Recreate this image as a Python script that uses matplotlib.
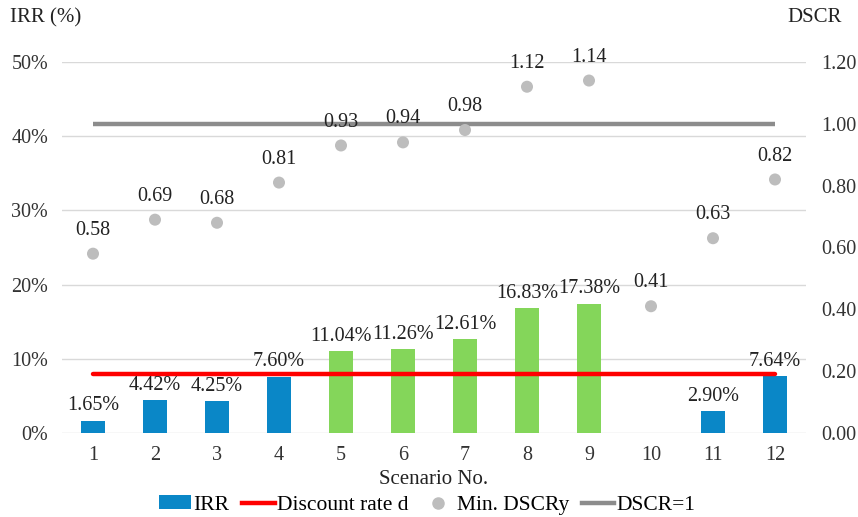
import matplotlib
matplotlib.use("Agg")
import matplotlib.pyplot as plt
import numpy as np
from matplotlib.lines import Line2D
from matplotlib.patches import Patch

plt.rcParams['font.family'] = ['Liberation Serif', 'DejaVu Serif']

scenarios = [1, 2, 3, 4, 5, 6, 7, 8, 9, 10, 11, 12]
irr = [1.65, 4.42, 4.25, 7.60, 11.04, 11.26, 12.61, 16.83, 17.38, None, 2.90, 7.64]
dscr = [0.58, 0.69, 0.68, 0.81, 0.93, 0.94, 0.98, 1.12, 1.14, 0.41, 0.63, 0.82]
discount_rate = 8.0
dscr_threshold = 1.0

blue = '#0A87C7'
green = '#84D65A'
red = '#FF0000'
dot_gray = '#BDBDBD'
line_gray = '#8C8C8C'
text_color = '#222222'

fig = plt.figure(figsize=(8.58, 5.17), dpi=100)
W, H = 858, 517
ax = fig.add_axes([62 / W, (H - 433) / H, (806 - 62) / W, (433 - 62) / H])
ax2 = ax.twinx()

x = np.arange(len(scenarios))
fs = 14.5

# IRR bars: green where IRR exceeds the discount rate
for xi, v in zip(x, irr):
    if v is None:
        continue
    c = green if v > discount_rate else blue
    ax.bar(xi, v, width=0.4, color=c, zorder=2)
    ax.annotate(f"{v:.2f}%", (xi, v), xytext=(0, 4), textcoords='offset points',
                ha='center', va='bottom', fontsize=fs, color=text_color, zorder=5)

ax.plot([x[0], x[-1]], [discount_rate, discount_rate], color=red, lw=3.2,
        solid_capstyle='round', zorder=3)

ax.set_xlim(-0.5, len(scenarios) - 0.5)
ax.set_ylim(0, 50)
ax.set_yticks(np.arange(0, 51, 10))
ax.set_yticklabels([f"{t}%" for t in range(0, 51, 10)])
ax.set_xticks(x)
ax.set_xticklabels([str(s) for s in scenarios])
ax.grid(axis='y', color='#D9D9D9', lw=1, zorder=0)
ax.set_axisbelow(True)

# DSCR on secondary axis
ax2.plot([x[0], x[-1]], [dscr_threshold, dscr_threshold], color=line_gray, lw=3.2,
         solid_capstyle='butt', zorder=3)
ax2.scatter(x, dscr, s=75, color=dot_gray, zorder=4, edgecolors='none')
for xi, v in zip(x, dscr):
    ax2.annotate(f"{v:.2f}", (xi, v), xytext=(0, 10), textcoords='offset points',
                 ha='center', va='bottom', fontsize=fs, color=text_color)
ax2.set_ylim(0, 1.2)
ax2.set_yticks(np.arange(0, 1.21, 0.2))
ax2.set_yticklabels([f"{t:.2f}" for t in np.arange(0, 1.21, 0.2)])

for a in (ax, ax2):
    for s in a.spines.values():
        s.set_visible(False)
    a.tick_params(length=0, labelsize=fs, colors='#333333')
ax.tick_params(axis='y', pad=10)
ax2.tick_params(axis='y', pad=11)
ax.tick_params(axis='x', pad=9)

fig.text(10 / W, 1 - 18 / H, "IRR (%)", fontsize=15, va='center', ha='left', color=text_color)
fig.text(842 / W, 1 - 18 / H, "DSCR", fontsize=15, va='center', ha='right', color=text_color)
fig.text(434 / W, 1 - 479 / H, "Scenario No.", fontsize=15, va='center', ha='center', color=text_color)

handles = [
    Patch(facecolor=blue, edgecolor='none'),
    Line2D([], [], color=red, lw=3.2),
    Line2D([], [], marker='o', ls='none', color=dot_gray, markersize=8),
    Line2D([], [], color=line_gray, lw=3.2),
]
labels = ["IRR", "Discount rate d", "Min. DSCRy", "DSCR=1"]
fig.legend(handles, labels, loc='center', bbox_to_anchor=(427 / W, 1 - 505 / H), ncol=4,
           frameon=False, fontsize=15.5, handlelength=1.5, handletextpad=0.12,
           columnspacing=0.6, handleheight=0.6, borderpad=0)

fig.savefig("out.png", dpi=100)
